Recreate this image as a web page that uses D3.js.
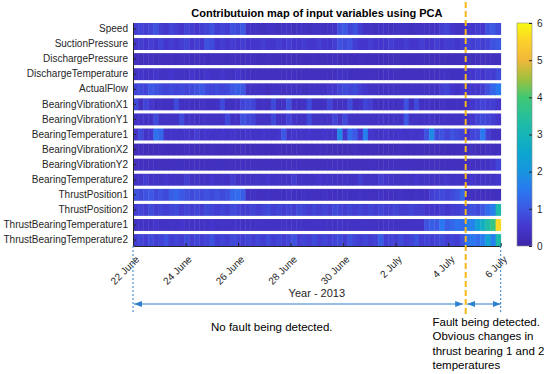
<!DOCTYPE html>
<html>
<head>
<meta charset="utf-8">
<script src="https://cdn.jsdelivr.net/npm/d3@7"></script>
<style>
body { margin: 0; background: #fff; }
svg { font-family: "Liberation Sans", Arial, sans-serif; }
</style>
</head>
<body>
<script>
// variable names, top to bottom
const variables = ['Speed', 'SuctionPressure', 'DischargePressure', 'DischargeTemperature', 'ActualFlow',
  'BearingVibrationX1', 'BearingVibrationY1', 'BearingTemperature1', 'BearingVibrationX2', 'BearingVibrationY2',
  'BearingTemperature2', 'ThrustPosition1', 'ThrustPosition2', 'ThrustBearingTemperature1', 'ThrustBearingTemperature2'];

const startDate = new Date(2013, 5, 22);
const endDate = new Date(2013, 6, 6);
const faultDate = new Date(2013, 6, 4, 16);
const tickDates = [new Date(2013, 5, 22), new Date(2013, 5, 24), new Date(2013, 5, 26), new Date(2013, 5, 28),
  new Date(2013, 5, 30), new Date(2013, 6, 2), new Date(2013, 6, 4), new Date(2013, 6, 6)];
const tickLabels = ['22 June', '24 June', '26 June', '28 June', '30 June', '2 July', '4 July', '6 July'];
const colorTicks = [0, 1, 2, 3, 4, 5, 6];

// contribution values, 72 time slots per variable
const speed = [
  0.6,0.7,0.6,0.7,0.9,0.6,0.5,0.7,0.6,0.5,0.7,0.6,
  0.5,0.6,0.7,0.9,0.6,0.7,0.6,0.9,0.8,1.0,0.4,0.4,
  0.4,0.3,0.4,0.4,0.3,0.4,0.4,0.3,0.4,0.4,0.3,0.4,
  0.4,0.3,0.4,0.4,0.9,1.0,0.7,0.9,0.6,0.4,0.4,0.3,
  0.4,0.4,0.3,0.4,0.4,0.4,0.3,0.4,0.4,0.4,0.4,0.4,
  0.6,0.7,0.5,0.4,0.4,0.5,0.5,0.6,0.5,0.9,1.0,0.8];
const suctionPressure = [
  0.5,0.6,0.5,0.6,0.5,0.7,0.5,0.6,0.5,0.6,0.7,0.5,
  0.6,0.5,0.9,0.8,0.5,0.6,0.5,0.6,0.5,0.6,0.5,0.5,
  0.5,0.6,0.5,0.5,0.6,0.5,0.6,0.5,0.5,0.6,0.5,0.5,
  0.6,0.5,0.5,0.6,0.9,0.8,0.9,0.6,0.5,0.5,0.6,0.5,
  0.5,0.5,0.6,0.5,0.5,0.6,0.5,0.5,0.6,0.5,0.5,0.6,
  0.5,0.6,0.6,0.5,0.6,0.7,0.6,0.7,0.6,0.7,0.9,1.0];
const dischargePressure = [
  0.3,0.25,0.3,0.3,0.25,0.3,0.3,0.3,0.25,0.3,0.3,0.25,
  0.3,0.3,0.25,0.3,0.3,0.3,0.25,0.3,0.3,0.25,0.3,0.3,
  0.25,0.25,0.3,0.25,0.25,0.25,0.3,0.25,0.25,0.25,0.25,0.3,
  0.25,0.25,0.25,0.3,0.25,0.25,0.25,0.25,0.3,0.25,0.25,0.25,
  0.25,0.25,0.25,0.25,0.25,0.25,0.25,0.25,0.25,0.25,0.25,0.25,
  0.25,0.25,0.25,0.25,0.25,0.3,0.25,0.3,0.3,0.3,0.3,0.3];
const dischargeTemperature = [
  0.4,0.5,0.4,0.4,0.5,0.4,0.4,0.5,0.4,0.4,0.4,0.5,
  0.4,0.4,0.5,0.4,0.4,0.5,0.4,0.4,0.5,0.4,0.35,0.35,
  0.35,0.3,0.35,0.35,0.3,0.35,0.35,0.35,0.3,0.35,0.35,0.3,
  0.35,0.35,0.3,0.35,0.4,0.4,0.35,0.35,0.3,0.35,0.35,0.3,
  0.35,0.35,0.35,0.3,0.35,0.35,0.35,0.35,0.3,0.35,0.35,0.35,
  0.4,0.4,0.35,0.35,0.4,0.5,0.5,0.6,0.5,0.6,0.6,0.8];
const actualFlow = [
  0.7,0.8,0.7,1.0,0.9,0.8,0.7,0.8,0.7,0.8,0.7,0.8,
  0.9,1.0,0.8,0.7,0.8,0.7,0.8,1.0,1.1,1.0,0.4,0.4,
  0.4,0.4,0.3,0.4,0.4,0.3,0.4,0.4,0.4,0.3,0.4,0.4,
  0.4,0.4,0.5,0.5,0.7,0.8,0.7,0.8,0.6,0.5,0.4,0.4,
  0.4,0.4,0.4,0.4,0.4,0.4,0.4,0.4,0.4,0.4,0.4,0.4,
  0.6,0.7,0.5,0.4,0.5,0.5,0.5,0.5,0.6,0.9,1.2,1.5];
const bearingVibrationX1 = [
  0.8,0.35,0.7,0.5,0.35,0.4,0.35,0.35,0.8,0.35,0.4,0.35,
  0.35,0.4,0.35,0.35,0.4,0.8,0.35,0.35,0.4,0.7,0.8,0.7,
  0.35,0.4,0.35,0.8,0.35,0.4,0.9,0.35,0.35,0.4,0.8,0.35,
  0.35,0.4,0.7,0.35,0.35,0.4,0.8,0.35,0.4,0.7,0.6,0.35,
  0.35,0.4,0.35,0.35,0.4,0.9,0.35,0.8,0.35,0.4,0.35,0.35,
  0.4,0.35,0.35,0.4,0.35,0.4,0.5,0.6,0.7,0.6,0.6,0.5];
const bearingVibrationY1 = [
  0.4,0.45,0.4,0.4,0.8,0.4,0.45,0.4,0.4,0.8,0.4,0.45,
  0.4,0.4,0.45,0.4,0.4,0.45,0.8,0.4,0.4,0.9,0.8,0.7,
  0.4,0.45,0.4,0.8,0.4,0.4,0.7,0.45,0.4,0.4,0.8,0.4,
  0.45,0.4,0.4,0.7,0.4,0.8,0.45,0.4,0.4,0.45,0.4,0.4,
  0.45,0.4,0.4,0.45,0.4,1.0,0.4,0.45,0.4,0.4,0.45,0.4,
  0.4,0.45,0.4,0.4,0.45,0.4,0.5,0.7,0.8,0.7,0.6,0.5];
const bearingTemperature1 = [
  0.45,0.8,0.45,0.5,1.4,1.2,0.45,0.5,0.45,0.45,0.5,0.45,
  0.6,0.45,0.5,0.45,0.45,0.5,0.45,0.5,0.45,0.45,0.5,0.45,
  0.45,0.5,0.45,0.45,0.5,1.0,0.45,0.5,0.45,0.45,0.5,0.45,
  0.45,0.5,0.45,0.45,1.8,0.5,1.3,1.0,0.5,1.6,0.5,0.45,
  0.45,0.5,0.45,0.45,0.5,0.45,0.5,0.45,0.5,0.9,1.8,0.8,
  0.9,0.7,0.9,0.8,0.7,0.5,0.7,0.8,1.5,0.6,0.4,0.4];
const bearingVibrationX2 = [
  0.25,0.3,0.25,0.25,0.25,0.3,0.25,0.25,0.25,0.25,0.3,0.25,
  0.25,0.25,0.25,0.3,0.25,0.25,0.25,0.25,0.25,0.3,0.25,0.25,
  0.25,0.25,0.25,0.25,0.3,0.25,0.25,0.25,0.25,0.25,0.25,0.25,
  0.3,0.25,0.25,0.25,0.25,0.25,0.25,0.3,0.25,0.25,0.25,0.25,
  0.25,0.25,0.25,0.25,0.3,0.25,0.25,0.25,0.25,0.25,0.25,0.25,
  0.25,0.25,0.25,0.25,0.25,0.25,0.3,0.25,0.25,0.3,0.3,0.3];
const bearingVibrationY2 = [
  0.3,0.35,0.3,0.3,0.35,0.3,0.3,0.3,0.35,0.3,0.3,0.3,
  0.35,0.3,0.3,0.3,0.35,0.3,0.3,0.3,0.3,0.35,0.3,0.3,
  0.3,0.3,0.35,0.3,0.3,0.3,0.3,0.3,0.35,0.3,0.3,0.3,
  0.3,0.3,0.3,0.35,0.3,0.3,0.3,0.3,0.3,0.3,0.35,0.3,
  0.3,0.3,0.3,0.3,0.3,0.35,0.3,0.3,0.3,0.3,0.3,0.3,
  0.3,0.3,0.35,0.3,0.3,0.3,0.35,0.35,0.4,0.4,0.5,0.7];
const bearingTemperature2 = [
  0.4,0.45,0.6,0.4,0.45,0.4,0.5,0.4,0.45,0.4,0.6,0.4,
  0.45,0.4,0.4,0.5,0.4,0.45,0.4,0.6,0.4,0.45,0.4,0.4,
  0.45,0.4,0.5,0.4,0.45,0.4,0.4,0.6,0.4,0.45,0.4,0.4,
  0.5,0.4,0.45,0.4,0.4,0.45,0.4,0.4,0.6,0.4,0.45,0.4,
  0.6,0.5,0.45,0.4,0.4,0.45,0.4,0.5,0.4,0.45,0.4,0.4,
  0.45,0.5,0.4,0.45,0.4,0.4,0.5,0.4,0.45,0.4,0.45,0.5];
const thrustPosition1 = [
  0.9,0.8,0.9,1.0,0.8,0.9,0.8,1.1,1.2,1.0,0.9,0.8,
  0.9,0.8,0.9,0.8,0.9,0.8,0.9,1.2,1.3,1.1,0.35,0.4,
  0.35,0.35,0.4,0.35,0.35,0.35,0.4,0.35,0.35,0.4,0.35,0.35,
  0.35,0.4,0.35,0.35,0.35,0.4,0.35,0.35,0.4,0.35,0.35,0.35,
  0.4,0.35,0.35,0.35,0.4,0.35,0.35,0.4,0.35,0.35,0.6,0.7,
  0.8,0.7,0.8,0.9,1.2,0.35,0.35,0.3,0.35,0.35,0.3,0.35];
const thrustPosition2 = [
  0.6,0.7,0.6,0.8,0.6,0.7,0.6,0.7,0.8,0.6,0.7,0.6,
  0.7,0.6,0.8,0.7,0.6,0.7,0.6,0.8,0.7,0.6,0.6,0.7,
  0.6,0.7,0.8,0.6,0.7,0.6,0.7,0.6,0.8,0.7,0.6,0.7,
  0.6,0.7,0.6,0.8,0.7,0.6,0.7,0.6,0.7,0.6,0.7,0.6,
  0.7,0.6,0.6,0.7,0.6,0.6,0.7,0.6,0.6,0.5,0.5,0.5,
  0.6,0.5,0.6,0.6,0.7,0.8,0.9,0.8,1.0,1.3,1.6,3.2];
const thrustBearingTemperature1 = [
  0.4,0.45,0.4,0.4,0.5,0.4,0.4,0.45,0.4,0.5,0.4,0.4,
  0.45,0.4,0.4,0.5,0.4,0.45,0.4,0.4,0.45,0.4,0.4,0.4,
  0.4,0.45,0.4,0.4,0.4,0.45,0.4,0.4,0.45,0.4,0.4,0.4,
  0.45,0.4,0.4,0.4,0.45,0.4,0.4,0.4,0.4,0.45,0.4,0.4,
  0.4,0.4,0.45,0.4,0.4,0.4,0.4,0.45,0.4,0.9,1.1,1.0,
  1.5,1.1,1.2,1.4,1.3,1.6,1.7,2.3,2.8,3.3,3.8,5.6];
const thrustBearingTemperature2 = [
  0.6,0.7,0.6,0.8,0.6,0.7,0.9,0.6,0.7,0.6,0.8,0.6,
  0.7,0.6,0.7,0.9,0.6,0.7,0.6,0.8,0.7,0.6,0.7,0.6,
  0.7,0.6,0.8,0.6,0.7,0.6,0.7,0.9,0.6,0.7,0.6,0.8,
  0.6,0.7,0.6,0.7,0.8,0.6,0.9,0.7,0.6,0.7,0.6,0.7,
  1.1,0.6,0.7,0.6,0.8,0.6,0.7,0.9,0.6,0.7,0.6,0.7,
  0.8,0.6,0.7,0.6,0.9,1.4,1.5,1.3,1.6,2.4,1.6,3.2];

const rows = [speed, suctionPressure, dischargePressure, dischargeTemperature, actualFlow,
  bearingVibrationX1, bearingVibrationY1, bearingTemperature1, bearingVibrationX2, bearingVibrationY2,
  bearingTemperature2, thrustPosition1, thrustPosition2, thrustBearingTemperature1, thrustBearingTemperature2];

// parula-like colormap
const cmapStops = [0, 0.5, 1, 1.5, 2, 2.5, 3, 3.5, 4, 4.5, 5, 5.5, 6];
const cmapColors = ['#3e26a8', '#4436cc', '#3d58e4', '#2a78f0', '#1994e0', '#0ca6cf', '#16b5b7',
  '#28c09a', '#40c873', '#a0c03e', '#f0b73a', '#fdd02c', '#f8fa0e'];

const width = 550, height = 374;
const plotLeft = 133, plotRight = 500.7, plotTop = 23, plotBottom = 246;
const axisColor = '#262626';
const blue = '#2d7fd0';
const orange = '#f5b617';

const svg = d3.select('body').append('svg').attr('width', width).attr('height', height);
const defs = svg.append('defs');

const x = d3.scaleTime().domain([startDate, endDate]).range([plotLeft, plotRight]);
const y = d3.scaleBand().domain(variables).range([plotTop, plotBottom]).paddingInner(0.21);
const col = d3.scaleBand().domain(d3.range(speed.length)).range([plotLeft, plotRight]);
const color = d3.scaleLinear().domain(cmapStops).range(cmapColors).clamp(true);

// heatmap
const rowG = svg.selectAll('g.row').data(rows).enter().append('g')
  .attr('transform', (d, i) => 'translate(0,' + y(variables[i]) + ')');
rowG.selectAll('rect').data(d => d).enter().append('rect')
  .attr('x', (d, i) => col(i))
  .attr('y', 0)
  .attr('width', col.bandwidth() + 0.4)
  .attr('height', y.bandwidth())
  .attr('fill', d => color(d));

// y axis
const yAxis = svg.append('g').attr('transform', 'translate(' + plotLeft + ',0)')
  .call(d3.axisLeft(y).tickSizeInner(-3).tickSizeOuter(0).tickPadding(5));
yAxis.select('.domain').attr('stroke', axisColor).attr('d', 'M0.5,' + plotTop + 'V' + plotBottom);
yAxis.selectAll('.tick line').attr('stroke', axisColor);
yAxis.selectAll('text').attr('font-size', 10).attr('fill', axisColor)
  .attr('font-family', '"Liberation Sans", Arial, sans-serif');

// x axis
const xAxis = svg.append('g').attr('transform', 'translate(0,' + plotBottom + ')')
  .call(d3.axisBottom(x).tickValues(tickDates).tickSizeInner(-3).tickSizeOuter(0).tickFormat(''));
xAxis.select('.domain').attr('stroke', axisColor);
xAxis.selectAll('.tick line').attr('stroke', axisColor);

svg.append('g').selectAll('text').data(tickDates).enter().append('text')
  .attr('transform', d => 'translate(' + (x(d) + 7) + ',' + (plotBottom + 14) + ') rotate(-45)')
  .attr('text-anchor', 'end')
  .attr('font-size', 10)
  .attr('fill', axisColor)
  .text((d, i) => tickLabels[i]);

svg.append('text').attr('x', (plotLeft + plotRight) / 2).attr('y', 297)
  .attr('text-anchor', 'middle').attr('font-size', 11).attr('fill', axisColor)
  .text('Year - 2013');

// title
svg.append('text').attr('x', (plotLeft + plotRight) / 2).attr('y', 17)
  .attr('text-anchor', 'middle').attr('font-size', 11).attr('font-weight', 'bold').attr('fill', '#000')
  .text('Contributuion map of input variables using PCA');

// colorbar
const cbX = 517, cbW = 15;
const cbScale = d3.scaleLinear().domain([0, 6]).range([plotBottom, plotTop]);
const grad = defs.append('linearGradient').attr('id', 'cbgrad')
  .attr('x1', 0).attr('y1', 1).attr('x2', 0).attr('y2', 0);
grad.selectAll('stop').data(cmapStops).enter().append('stop')
  .attr('offset', d => d / 6)
  .attr('stop-color', (d, i) => cmapColors[i]);
svg.append('rect').attr('x', cbX).attr('y', plotTop).attr('width', cbW).attr('height', plotBottom - plotTop)
  .attr('fill', 'url(#cbgrad)').attr('stroke', '#8a8a8a').attr('stroke-width', 0.6);
const cbAxis = svg.append('g').attr('transform', 'translate(' + (cbX + cbW) + ',0)')
  .call(d3.axisRight(cbScale).tickValues(colorTicks).tickFormat(d3.format('d'))
    .tickSizeInner(-3).tickSizeOuter(0).tickPadding(5));
cbAxis.select('.domain').remove();
cbAxis.selectAll('.tick line').attr('stroke', axisColor);
cbAxis.selectAll('text').attr('font-size', 10).attr('fill', axisColor)
  .attr('font-family', '"Liberation Sans", Arial, sans-serif');

// annotations
defs.append('marker').attr('id', 'arrowEnd').attr('markerUnits', 'userSpaceOnUse')
  .attr('viewBox', '0 0 8 6').attr('refX', 8).attr('refY', 3)
  .attr('markerWidth', 8).attr('markerHeight', 6).attr('orient', 'auto')
  .append('path').attr('d', 'M0,0L8,3L0,6Z').attr('fill', blue);
defs.append('marker').attr('id', 'arrowStart').attr('markerUnits', 'userSpaceOnUse')
  .attr('viewBox', '0 0 8 6').attr('refX', 0).attr('refY', 3)
  .attr('markerWidth', 8).attr('markerHeight', 6).attr('orient', 'auto')
  .append('path').attr('d', 'M8,0L0,3L8,6Z').attr('fill', blue);

[startDate, endDate].forEach(d => {
  svg.append('line').attr('x1', x(d)).attr('x2', x(d)).attr('y1', plotBottom).attr('y2', 312)
    .attr('stroke', blue).attr('stroke-width', 1).attr('stroke-dasharray', '2,2');
});

const arrowY = 304;
[[startDate, faultDate, 1, -2.5], [faultDate, endDate, 1.5, 0]].forEach(p => {
  svg.append('line')
    .attr('x1', x(p[0]) + p[2]).attr('x2', x(p[1]) + p[3])
    .attr('y1', arrowY).attr('y2', arrowY)
    .attr('stroke', blue).attr('stroke-width', 1)
    .attr('marker-start', 'url(#arrowStart)').attr('marker-end', 'url(#arrowEnd)');
});

svg.append('line').attr('x1', x(faultDate)).attr('x2', x(faultDate)).attr('y1', 2).attr('y2', 316)
  .attr('stroke', orange).attr('stroke-width', 2).attr('stroke-dasharray', '6,3');

svg.append('text').attr('x', 211).attr('y', 331).attr('font-size', 11.5).attr('fill', '#000')
  .text('No fault being detected.');

const faultLines = ['Fault being detected.', 'Obvious changes in', 'thrust bearing 1 and 2', 'temperatures'];
svg.append('g').selectAll('text').data(faultLines).enter().append('text')
  .attr('x', 432.5).attr('y', (d, i) => 326 + i * 14.4)
  .attr('font-size', 11.5).attr('fill', '#000')
  .text(d => d);
</script>
</body>
</html>
